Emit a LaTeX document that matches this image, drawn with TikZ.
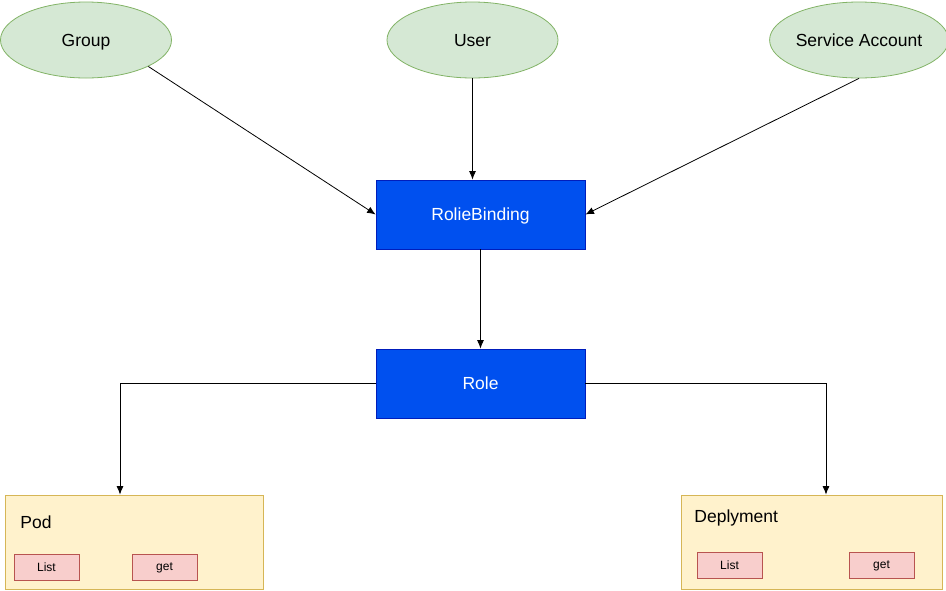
\documentclass[tikz,border=0pt]{standalone}
\usepackage{fontspec}
\setmainfont{Liberation Sans}
\usetikzlibrary{shapes.geometric,arrows.meta}
\definecolor{subjfill}{HTML}{D5E8D4}
\definecolor{subjline}{HTML}{82B366}
\definecolor{bindfill}{HTML}{0050EF}
\definecolor{bindline}{HTML}{001DBC}
\definecolor{resfill}{HTML}{FFF2CC}
\definecolor{resline}{HTML}{D6B656}
\definecolor{verbfill}{HTML}{F8CECC}
\definecolor{verbline}{HTML}{B85450}
\begin{document}
\begin{tikzpicture}[x=1pt, y=-1pt, line width=0.8pt]
	    \tikzset{>={Latex[length=8.5pt,width=7pt]}}
	    \tikzset{subject/.style={ellipse, draw=subjline, fill=subjfill, minimum width=171pt, minimum height=76pt, inner sep=0pt, text depth=0pt, font=\fontsize{17.5}{20}\selectfont}}
	    \tikzset{binding/.style={rectangle, draw=bindline, fill=bindfill, text=white, minimum width=209pt, minimum height=69pt, inner sep=0pt, text depth=0pt, font=\fontsize{17.5}{20}\selectfont}}
	    \tikzset{resource/.style={rectangle, draw=resline, fill=resfill, minimum width=258pt, minimum height=94pt, inner sep=0pt}}
	    \tikzset{verb/.style={rectangle, draw=verbline, fill=verbfill, minimum width=65pt, minimum height=26pt, inner sep=0pt, text depth=0pt, font=\fontsize{12}{14}\selectfont}}
	    \tikzset{reslabel/.style={anchor=west, inner sep=0pt, text depth=0pt, font=\fontsize{17.5}{20}\selectfont}}
	    \useasboundingbox (0,0) rectangle (946,590);
	    % subjects
	    \node [subject] (group) at (86,40) {Group};
	    \node [subject] (user) at (472.5,40) {User};
	    \node [subject] (sa) at (859,40) {Service Account};
	    % binding and role
	    \node [binding] (rb) at (480.5,214.5) {RolieBinding};
	    \node [binding] (role) at (480.5,383.5) {Role};
	    % resources
	    \node [resource] (pod) at (134,542) {};
	    \node [reslabel] (podlabel) at (20,522) {Pod};
	    \node [verb] (podlist) at (46.5,567) {List};
	    \node [verb] (podget) at (164.5,567) {get};
	    \node [resource, minimum width=261pt] (dep) at (811.5,542) {};
	    \node [reslabel] (deplabel) at (694,516) {Deplyment};
	    \node [verb] (deplist) at (729.5,565) {List};
	    \node [verb] (depget) at (881.5,565) {get};
	    % connectors
	    \draw [->] (group.-23.5) -- (rb.west);
	    \draw [->] (user.south) -- (user.south |- rb.north);
	    \draw [->] (sa.south) -- (rb.east);
	    \draw [->] (rb.south) -- (role.north);
	    \draw [->] (role.west) -| ([xshift=-14pt]pod.north);
	    \draw [->] (role.east) -| ([xshift=14.5pt]dep.north);
\end{tikzpicture}
\end{document}
